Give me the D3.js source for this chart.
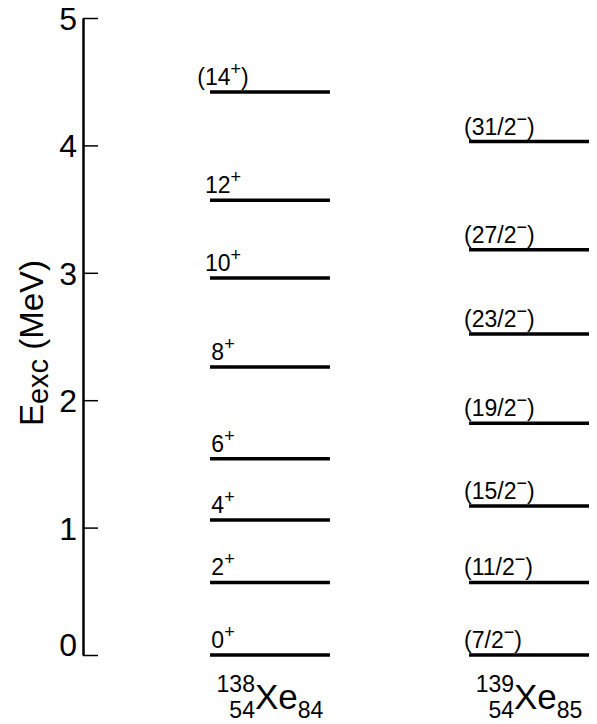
<!DOCTYPE html>
<html><head><meta charset="utf-8">
<script src="https://cdn.jsdelivr.net/npm/d3@7"></script>
<style>
body{margin:0;background:#fff}
svg{display:block;background:#fff}
text{font-family:"Liberation Sans",Arial,Helvetica,sans-serif;fill:#000}
</style>
</head><body><svg id="chart" width="597" height="724"></svg>
<script>
// ---- data ----
const nuclei = ["138Xe", "139Xe"];
const massNumbers = ["138", "139"];
const protonNumbers = ["54", "54"];
const neutronNumbers = ["84", "85"];
const elementSymbol = "Xe";
const xe138Labels = ["0+", "2+", "4+", "6+", "8+", "10+", "12+", "(14+)"];
const xe138Energies = [0, 0.57, 1.06, 1.54, 2.26, 2.96, 3.57, 4.42];
const xe139Labels = ["(7/2-)", "(11/2-)", "(15/2-)", "(19/2-)", "(23/2-)", "(27/2-)", "(31/2-)"];
const xe139Energies = [0, 0.57, 1.17, 1.82, 2.52, 3.18, 4.03];
const tickValues = [0, 1, 2, 3, 4, 5];
const titleMain = "E", titleSub = "exc", titleUnit = " (MeV)";

const levels = [
  ...xe138Labels.map((l, i) => ({nucleus: nuclei[0], col: 0, label: l, e: xe138Energies[i]})),
  ...xe139Labels.map((l, i) => ({nucleus: nuclei[1], col: 1, label: l, e: xe139Energies[i]}))
];

const svg = d3.select("#chart");
const y = d3.scaleLinear().domain([0, 5]).range([655, 18]);
const x = d3.scaleBand().domain(nuclei).range([210, 589]).paddingInner(0.537).paddingOuter(0);
const labelOffset = [13, -5];
const labelAnchor = ["middle", "start"];

// ---- axis ----
const axisX = 83;
const gAxis = svg.append("g").attr("transform", `translate(${axisX},0)`)
  .call(d3.axisLeft(y).tickValues(tickValues).tickFormat(d3.format("d"))
    .tickSizeInner(-15).tickSizeOuter(0).tickPadding(6));
gAxis.select(".domain").attr("stroke", "#000").attr("stroke-width", 2.5);
gAxis.selectAll(".tick line").attr("stroke", "#000").attr("stroke-width", 1.5);
gAxis.selectAll(".tick text")
  .attr("fill", "#000")
  .style("font-size", "32px")
  .attr("dy", d => d === 0 ? "0.03em" : "0.36em");

// axis title
const title = svg.append("text")
  .attr("transform", "translate(43,343) rotate(-90)")
  .attr("text-anchor", "middle")
  .style("font-size", "33px");
title.append("tspan").text(titleMain);
title.append("tspan").attr("dy", 5).style("font-size", "29px").text(titleSub);
title.append("tspan").attr("dy", -5).text(titleUnit);

// ---- levels ----
svg.append("g").selectAll("line").data(levels).join("line")
  .attr("x1", d => x(d.nucleus))
  .attr("x2", d => x(d.nucleus) + x.bandwidth())
  .attr("y1", d => y(d.e))
  .attr("y2", d => y(d.e))
  .attr("stroke", "#000")
  .attr("stroke-width", 3.5);

const lab = svg.append("g").selectAll("text").data(levels).join("text")
  .attr("x", d => x(d.nucleus) + labelOffset[d.col])
  .attr("y", d => y(d.e) - 7)
  .attr("text-anchor", d => labelAnchor[d.col])
  .style("font-size", "23px");
lab.each(function(d) {
  const m = d.label.match(/^(.*?)([+-])(.*)$/);
  const t = d3.select(this);
  t.append("tspan").text(m[1]);
  t.append("tspan").attr("dy", -10).style("font-size", "18px").text(m[2] === "-" ? "\u2212" : "+");
  if (m[3]) t.append("tspan").attr("dy", 10).text(m[3]);
});

// ---- nuclide names ----
nuclei.forEach((n, i) => {
  const g = svg.append("g");
  const xe = g.append("text").attr("y", 709).style("font-size", "35px").text(elementSymbol);
  const a = g.append("text").attr("y", 692).attr("text-anchor", "end").style("font-size", "23px").text(massNumbers[i]);
  const z = g.append("text").attr("y", 718).attr("text-anchor", "end").style("font-size", "23px").text(protonNumbers[i]);
  const nn = g.append("text").attr("y", 718).style("font-size", "23px").text(neutronNumbers[i]);
  const wXe = xe.node().getComputedTextLength();
  const wL = Math.max(a.node().getComputedTextLength(), z.node().getComputedTextLength());
  const wN = nn.node().getComputedTextLength();
  const total = wL + wXe + wN;
  const center = x(n) + x.bandwidth() / 2;
  const xXe = center - total / 2 + wL;
  xe.attr("x", xXe);
  a.attr("x", xXe);
  z.attr("x", xXe);
  nn.attr("x", xXe + wXe);
});
</script>
</body></html>
